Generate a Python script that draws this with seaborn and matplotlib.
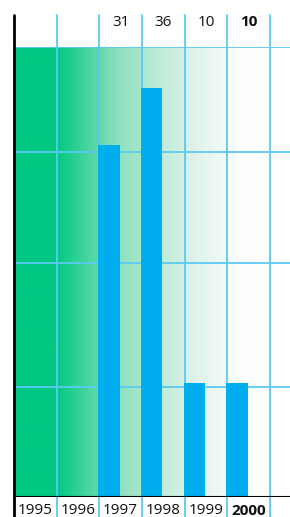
import numpy as np
import matplotlib
matplotlib.use("Agg")
import matplotlib.pyplot as plt
from matplotlib.colors import LinearSegmentedColormap
import seaborn as sns

# data
years = ["1995", "1996", "1997", "1998", "1999", "2000"]
values = [np.nan, np.nan, 31, 36, 10, 10]
value_labels = ["", "", "31", "36", "10", "10"]
grid_levels = [9.7, 20.6, 30.4]

bar_color = "#00AEEF"
line_color = "#5CC9F5"

sns.set_style("white")
plt.rcParams["font.family"] = ["Open Sans", "DejaVu Sans"]

fig = plt.figure(figsize=(2.9, 5.17), dpi=100)
ax = fig.add_axes([14 / 290, 20 / 517, 276 / 290, 450 / 517])

# background gradient, green to white
stops = [(0.0, "#00C882"), (0.163, "#00C882"), (0.407, "#8DE0BE"),
         (0.575, "#C0EBD8"), (0.742, "#E6F5EE"), (0.883, "#FBFEFC"), (1.0, "#FFFFFF")]
cmap = LinearSegmentedColormap.from_list("fade", stops)
grad = np.linspace(0, 1, 512).reshape(1, -1)
ax.imshow(grad, cmap=cmap, aspect="auto", extent=[-0.5, 5.5, 0, 40], zorder=0)

# bars
sns.barplot(x=years, y=values, order=years, color=bar_color, width=0.5,
            saturation=1, ax=ax, zorder=3)
for p in ax.patches:
    p.set_x(p.get_x() - 0.27)
    p.set_edgecolor("none")

ax.set_xlim(-0.5, 5.97)
ax.set_ylim(0, 39.6)
ax.set_xticks([])
ax.set_yticks([])
ax.set_xlabel("")
ax.set_ylabel("")
for s in ax.spines.values():
    s.set_visible(False)

# grid lines
for lvl in grid_levels + [39.6]:
    ax.axhline(lvl, color=line_color, lw=1.3, zorder=1)
for i in range(1, 7):
    ax.axvline(i - 0.5, ymin=-0.044, ymax=1.071, color=line_color, lw=1.3,
               clip_on=False, zorder=1)
ax.axvline(-0.5, ymin=-0.044, ymax=1.071, color="black", lw=2, clip_on=False, zorder=4)
ax.axhline(0, color="black", lw=1.5, zorder=4)

# labels
for i, (yr, lab) in enumerate(zip(years, value_labels)):
    w = "bold" if yr == "2000" else "normal"
    ax.text(i, -0.031, yr, transform=ax.get_xaxis_transform(), ha="center",
            va="center", fontsize=11, fontweight=w, color="#111111")
    if lab:
        ax.text(i, 1.055, lab, transform=ax.get_xaxis_transform(), ha="center",
                va="center", fontsize=11, fontweight=w, color="#111111")

fig.savefig("out.png", dpi=100)
